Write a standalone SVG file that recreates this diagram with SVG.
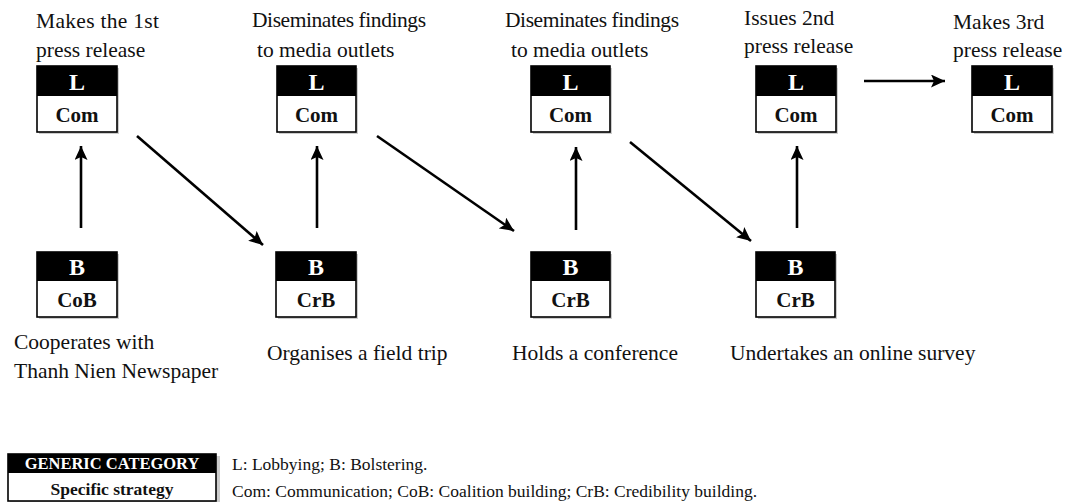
<svg xmlns="http://www.w3.org/2000/svg" width="1068" height="502" viewBox="0 0 1068 502">
<style>
  text { font-family: "Liberation Serif", "Times New Roman", serif; }
  .lbl { font-size: 21.5px; fill: #111; }
  .hdr { font-size: 24px; font-weight: bold; fill: #fff; text-anchor: middle; }
  .sub { font-size: 21px; font-weight: bold; fill: #111; text-anchor: middle; }
  .band { fill: #000; }
  .body { fill: #fff; stroke: #000; stroke-width: 1.6; }
  .shadow { fill: #aaa; opacity: 0.6; }
  .conn { stroke: #000; stroke-width: 2.6; fill: none; marker-end: url(#arrow); }
  .leg { font-size: 17.5px; fill: #111; }
</style>
<defs>
  <marker id="arrow" markerUnits="userSpaceOnUse" markerWidth="16" markerHeight="14" refX="14" refY="6.5" orient="auto">
    <path d="M0,0 L14,6.5 L0,13 L3,6.5 z" fill="#000"/>
  </marker>
</defs>
<rect width="1068" height="502" fill="#fff"/>

<g id="node-l1">
  <rect class="shadow" x="39" y="68" width="80" height="66"/>
  <rect class="body" x="37" y="66" width="80" height="66"/>
  <rect class="band" x="37" y="66" width="80" height="30"/>
  <text class="hdr" x="77" y="90">L</text>
  <text class="sub" x="77" y="122">Com</text>
  <text class="lbl" x="36" y="28" textLength="123">Makes the 1st</text>
  <text class="lbl" x="36" y="57">press release</text>
</g>
<g id="node-l2">
  <rect class="shadow" x="279" y="68" width="79" height="66"/>
  <rect class="body" x="277" y="66" width="79" height="66"/>
  <rect class="band" x="277" y="66" width="79" height="30"/>
  <text class="hdr" x="316.5" y="90">L</text>
  <text class="sub" x="316.5" y="122">Com</text>
  <text class="lbl" x="252" y="27" textLength="174">Diseminates findings</text>
  <text class="lbl" x="257" y="57">to media outlets</text>
</g>
<g id="node-l3">
  <rect class="shadow" x="533" y="68" width="79" height="66"/>
  <rect class="body" x="531" y="66" width="79" height="66"/>
  <rect class="band" x="531" y="66" width="79" height="30"/>
  <text class="hdr" x="570.5" y="90">L</text>
  <text class="sub" x="570.5" y="122">Com</text>
  <text class="lbl" x="505" y="27" textLength="174">Diseminates findings</text>
  <text class="lbl" x="511" y="57">to media outlets</text>
</g>
<g id="node-l4">
  <rect class="shadow" x="758" y="68" width="80" height="66"/>
  <rect class="body" x="756" y="66" width="80" height="66"/>
  <rect class="band" x="756" y="66" width="80" height="30"/>
  <text class="hdr" x="796" y="90">L</text>
  <text class="sub" x="796" y="122">Com</text>
  <text class="lbl" x="744" y="25">Issues 2nd</text>
  <text class="lbl" x="744" y="53">press release</text>
</g>
<g id="node-l5">
  <rect class="shadow" x="974" y="68" width="80" height="66"/>
  <rect class="body" x="972" y="66" width="80" height="66"/>
  <rect class="band" x="972" y="66" width="80" height="30"/>
  <text class="hdr" x="1012" y="90">L</text>
  <text class="sub" x="1012" y="122">Com</text>
  <text class="lbl" x="953" y="29">Makes 3rd</text>
  <text class="lbl" x="953" y="57">press release</text>
</g>

<g id="node-b1">
  <rect class="shadow" x="39" y="254" width="80" height="65"/>
  <rect class="body" x="37" y="252" width="80" height="65"/>
  <rect class="band" x="37" y="252" width="80" height="29"/>
  <text class="hdr" x="77" y="275">B</text>
  <text class="sub" x="77" y="307">CoB</text>
  <text class="lbl" x="14" y="349">Cooperates with</text>
  <text class="lbl" x="14" y="378">Thanh Nien Newspaper</text>
</g>
<g id="node-b2">
  <rect class="shadow" x="278" y="254" width="80" height="65"/>
  <rect class="body" x="276" y="252" width="80" height="65"/>
  <rect class="band" x="276" y="252" width="80" height="29"/>
  <text class="hdr" x="316" y="275">B</text>
  <text class="sub" x="316" y="307">CrB</text>
  <text class="lbl" x="267" y="360">Organises a field trip</text>
</g>
<g id="node-b3">
  <rect class="shadow" x="533" y="254" width="79" height="65"/>
  <rect class="body" x="531" y="252" width="79" height="65"/>
  <rect class="band" x="531" y="252" width="79" height="29"/>
  <text class="hdr" x="570.5" y="275">B</text>
  <text class="sub" x="570.5" y="307">CrB</text>
  <text class="lbl" x="512" y="360">Holds a conference</text>
</g>
<g id="node-b4">
  <rect class="shadow" x="758" y="254" width="79" height="65"/>
  <rect class="body" x="756" y="252" width="79" height="65"/>
  <rect class="band" x="756" y="252" width="79" height="29"/>
  <text class="hdr" x="795.5" y="275">B</text>
  <text class="sub" x="795.5" y="307">CrB</text>
  <text class="lbl" x="730" y="360">Undertakes an online survey</text>
</g>

<g id="connectors">
  <line class="conn" x1="81" y1="228" x2="81" y2="146"/>
  <line class="conn" x1="137" y1="136" x2="263" y2="245"/>
  <line class="conn" x1="317" y1="228" x2="317" y2="146"/>
  <line class="conn" x1="377" y1="136" x2="514" y2="231"/>
  <line class="conn" x1="576" y1="230" x2="576" y2="147"/>
  <line class="conn" x1="630" y1="142" x2="751" y2="241"/>
  <line class="conn" x1="797" y1="228" x2="797" y2="146"/>
  <line class="conn" x1="864" y1="81" x2="945" y2="81"/>
</g>

<g id="legend">
  <rect class="shadow" x="10" y="456" width="210" height="47"/>
  <rect class="body" x="8" y="454" width="208" height="47"/>
  <rect class="band" x="8" y="454" width="208" height="19"/>
  <text x="112" y="469" text-anchor="middle" font-size="16.5" font-weight="bold" fill="#fff">GENERIC CATEGORY</text>
  <text x="112" y="495" text-anchor="middle" font-size="17.5" font-weight="bold" fill="#111">Specific strategy</text>
  <text class="leg" x="232" y="470">L: Lobbying; B: Bolstering.</text>
  <text class="leg" x="232" y="497">Com: Communication; CoB: Coalition building; CrB: Credibility building.</text>
</g>
</svg>
